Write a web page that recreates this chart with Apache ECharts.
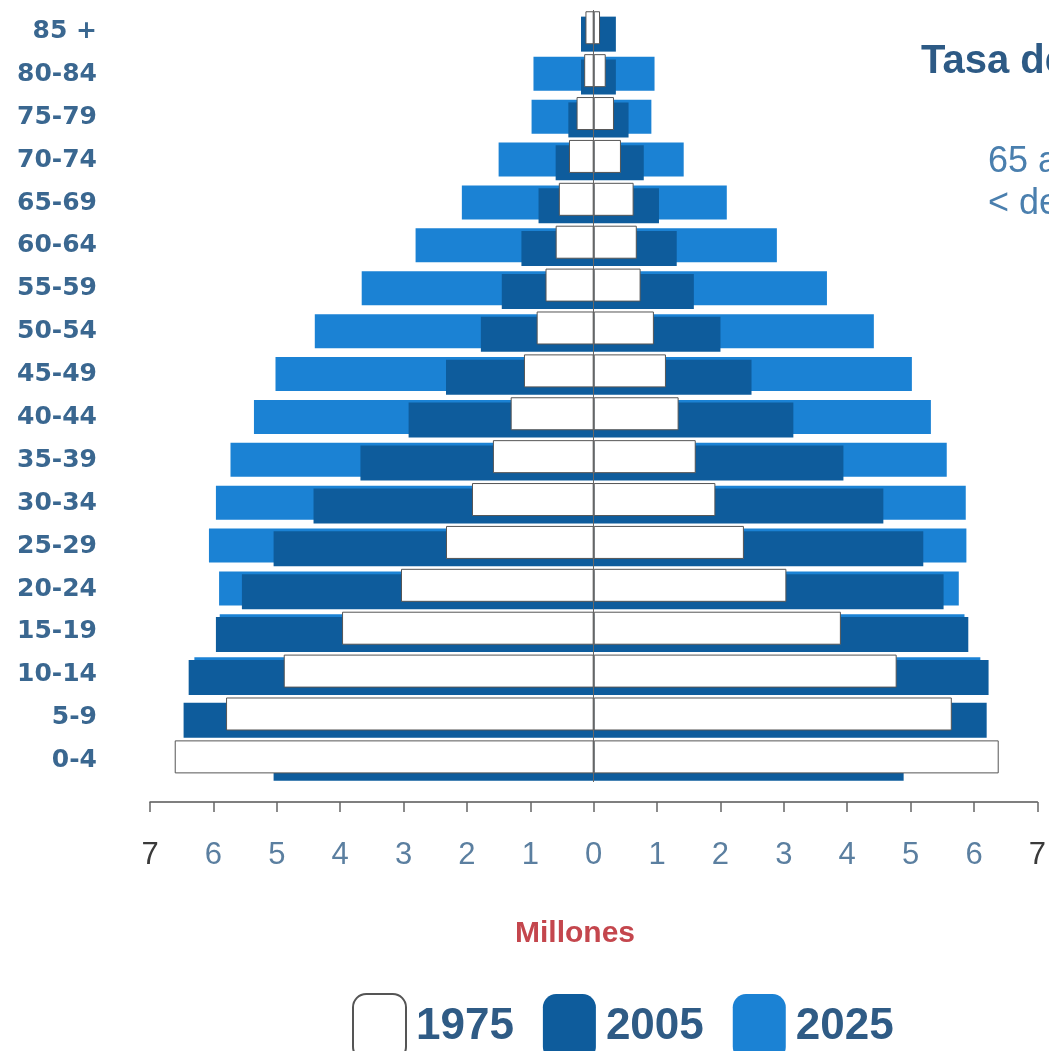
<!DOCTYPE html>
<html>
<head>
<meta charset="utf-8">
<script src="https://cdn.jsdelivr.net/npm/echarts@6/dist/echarts.min.js"></script>
<style>
html,body{margin:0;padding:0;background:#fff;overflow:hidden;}
#chart{width:1049px;height:1051px;}
</style>
</head>
<body>
<div id="chart"></div>
<script>
// Age groups, bottom to top
const categories = ['0-4','5-9','10-14','15-19','20-24','25-29','30-34','35-39','40-44','45-49','50-54','55-59','60-64','65-69','70-74','75-79','80-84','85 +'];
// Millions, left side (read as magnitudes) and right side
const left1975  = [6.61,5.80,4.89,3.97,3.04,2.33,1.92,1.59,1.31,1.10,0.90,0.76,0.60,0.55,0.39,0.27,0.15,0.13];
const right1975 = [6.39,5.65,4.78,3.90,3.04,2.37,1.92,1.61,1.34,1.14,0.95,0.74,0.68,0.63,0.43,0.32,0.19,0.10];
const left2005  = [5.05,6.47,6.39,5.96,5.55,5.05,4.42,3.68,2.92,2.33,1.78,1.45,1.14,0.87,0.60,0.40,0.20,0.20];
const right2005 = [4.89,6.20,6.23,5.91,5.52,5.20,4.57,3.94,3.15,2.49,2.00,1.58,1.31,1.03,0.79,0.55,0.35,0.35];
const left2025  = [4.90,5.75,6.30,5.90,5.91,6.07,5.96,5.73,5.36,5.02,4.40,3.66,2.81,2.08,1.50,0.98,0.95,0.12];
const right2025 = [4.70,5.60,6.10,5.85,5.76,5.88,5.87,5.57,5.32,5.02,4.42,3.68,2.89,2.10,1.42,0.91,0.96,0.09];
const xTicks = [-7,-6,-5,-4,-3,-2,-1,0,1,2,3,4,5,6,7];
const legendNames = ['1975','2005','2025'];

const C1975 = '#ffffff', C2005 = '#0e5c9c', C2025 = '#1b82d4';

function neg(a){ return a.map(v => -v); }

function yearSeries(name, L, R, color, border, bw, z, extra){
  const base = {
    type: 'bar', name: name, stack: 's' + name, barWidth: bw, barGap: '-92%', z: z,
    itemStyle: { color: color, borderColor: border, borderWidth: border ? 1 : 0 },
    emphasis: { disabled: true }, silent: true
  };
  return [
    Object.assign({}, base, { data: neg(L) }),
    Object.assign({}, base, { data: R.slice() }, extra || {})
  ];
}

const series = [].concat(
  yearSeries(legendNames[0], left1975, right1975, C1975, '#555555', 33, 4, {
    markLine: {
      silent: true, symbol: 'none', label: { show: false },
      lineStyle: { color: '#666', width: 1, type: 'solid' },
      data: [{ xAxis: 0 }]
    }
  }),
  yearSeries(legendNames[2], left2025, right2025, C2025, null, 34, 2),
  yearSeries(legendNames[1], left2005, right2005, C2005, null, 35, 3)
);

const chart = echarts.init(document.getElementById('chart'), null, { renderer: 'canvas' });
chart.setOption({
  animation: false,
  backgroundColor: '#ffffff',
  grid: { left: 150, right: 10, top: 10, bottom: 269, containLabel: false },
  title: {
    text: 'Millones', left: 510, top: 914,
    textStyle: { fontFamily: 'Liberation Sans, Arial, sans-serif', fontSize: 30, fontWeight: 'bold', color: '#c4464d' }
  },
  legend: {
    data: [
      { name: legendNames[0], itemStyle: { color: C1975, borderColor: '#555', borderWidth: 2 } },
      { name: legendNames[1], itemStyle: { color: C2005 } },
      { name: legendNames[2], itemStyle: { color: C2025 } }
    ],
    left: 347, top: 988, icon: 'roundRect',
    itemWidth: 53, itemHeight: 66, itemGap: 29,
    selectedMode: false,
    textStyle: { fontFamily: 'Liberation Sans, Arial, sans-serif', fontSize: 44, fontWeight: 'bold', color: '#2f5b85', padding: [0,0,0,5] }
  },
  xAxis: {
    type: 'value', min: xTicks[0], max: xTicks[xTicks.length - 1], interval: 1, position: 'bottom', offset: 20,
    axisLine: { show: true, onZero: false, lineStyle: { color: '#555', width: 1.5 } },
    axisTick: { show: true, length: 10, lineStyle: { color: '#666', width: 1.5 } },
    splitLine: { show: false },
    axisLabel: {
      margin: 38, fontFamily: 'Liberation Sans, Arial, sans-serif', fontSize: 31,
      color: function (v) { return Math.abs(v) === 7 ? '#3a3a3a' : '#5b7fa0'; },
      formatter: function (v) { return String(Math.abs(v)); }
    }
  },
  yAxis: {
    type: 'category', data: categories,
    axisLine: { show: false }, axisTick: { show: false }, splitLine: { show: false },
    axisLabel: {
      margin: 53, fontFamily: 'DejaVu Sans, sans-serif', fontSize: 25, fontWeight: 'bold', color: '#3a6790'
    }
  },
  graphic: [
    { type: 'text', left: 921, top: 42, silent: true,
      style: { text: 'Tasa de dependencia', font: 'bold 40px "Liberation Sans", Arial, sans-serif', fill: '#2d5a85' } },
    { type: 'text', left: 988, top: 144, silent: true,
      style: { text: '65 años y más', font: '36px "Liberation Sans", Arial, sans-serif', fill: '#4a7fae' } },
    { type: 'text', left: 988, top: 186, silent: true,
      style: { text: '< de 15 años', font: '36px "Liberation Sans", Arial, sans-serif', fill: '#4a7fae' } }
  ],
  series: series
});
</script>
</body>
</html>
